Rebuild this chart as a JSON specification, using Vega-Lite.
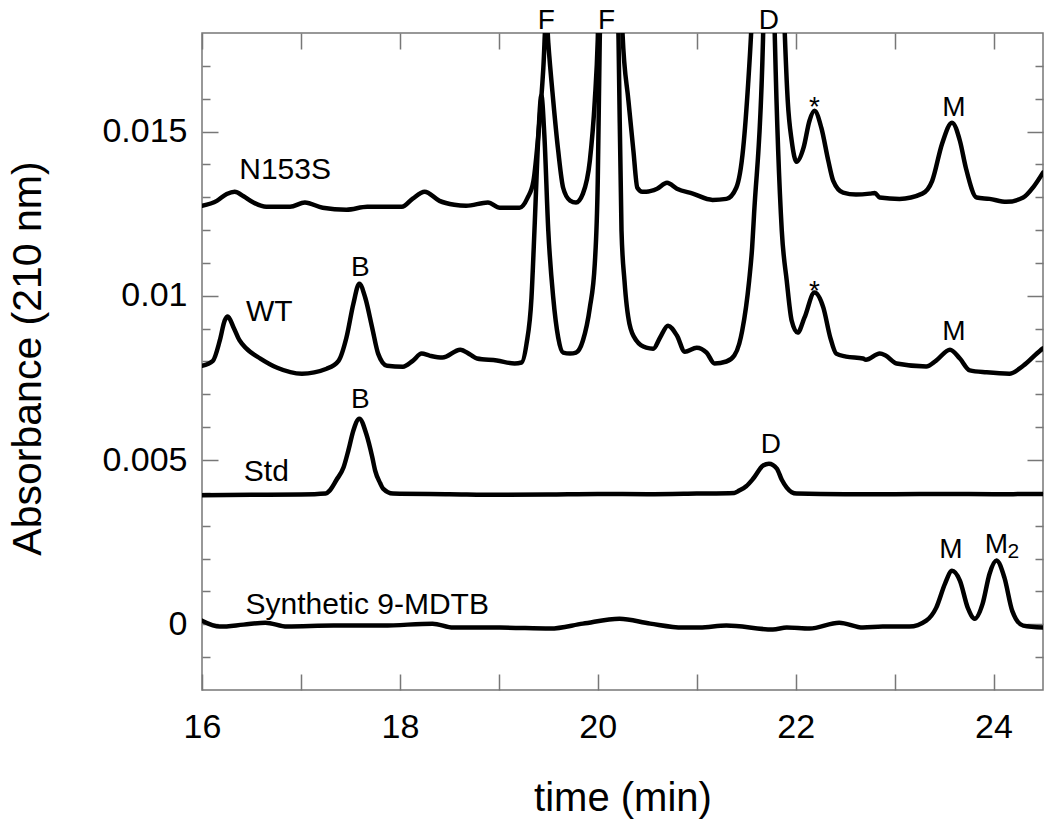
{
  "$schema": "https://vega.github.io/schema/vega-lite/v6.json",
  "width": 841,
  "height": 657,
  "autosize": "none",
  "padding": {"left": 202, "top": 33, "right": 7, "bottom": 147},
  "background": "white",
  "config": {
    "view": {"stroke": "#777777", "strokeWidth": 1.5},
    "font": "Liberation Sans",
    "axis": {
      "domain": false,
      "grid": false,
      "tickColor": "#777777",
      "tickWidth": 1.5,
      "labelFont": "Liberation Sans",
      "titleFont": "Liberation Sans",
      "labelColor": "#000000",
      "titleColor": "#000000",
      "titleFontWeight": "normal",
      "labelFlush": false,
      "labelOverlap": false,
      "labelBound": false
    }
  },
  "datasets": {
    "curves": [
      {"series": "N153S", "t": 16.0, "a": 0.01274},
      {"series": "N153S", "t": 16.15, "a": 0.01289},
      {"series": "N153S", "t": 16.25, "a": 0.0131},
      {"series": "N153S", "t": 16.33, "a": 0.01317},
      {"series": "N153S", "t": 16.42, "a": 0.01303},
      {"series": "N153S", "t": 16.52, "a": 0.01284},
      {"series": "N153S", "t": 16.65, "a": 0.01271},
      {"series": "N153S", "t": 16.89, "a": 0.01271},
      {"series": "N153S", "t": 17.04, "a": 0.01284},
      {"series": "N153S", "t": 17.22, "a": 0.01268},
      {"series": "N153S", "t": 17.46, "a": 0.01262},
      {"series": "N153S", "t": 17.67, "a": 0.01271},
      {"series": "N153S", "t": 18.02, "a": 0.01271},
      {"series": "N153S", "t": 18.13, "a": 0.01296},
      {"series": "N153S", "t": 18.25, "a": 0.01317},
      {"series": "N153S", "t": 18.4, "a": 0.01289},
      {"series": "N153S", "t": 18.55, "a": 0.01277},
      {"series": "N153S", "t": 18.67, "a": 0.01274},
      {"series": "N153S", "t": 18.89, "a": 0.01284},
      {"series": "N153S", "t": 19.01, "a": 0.01268},
      {"series": "N153S", "t": 19.21, "a": 0.01268},
      {"series": "N153S", "t": 19.29, "a": 0.01298},
      {"series": "N153S", "t": 19.35, "a": 0.0135},
      {"series": "N153S", "t": 19.4, "a": 0.01493},
      {"series": "N153S", "t": 19.45, "a": 0.01694},
      {"series": "N153S", "t": 19.48, "a": 0.0186},
      {"series": "N153S", "t": 19.5, "a": 0.0177},
      {"series": "N153S", "t": 19.55, "a": 0.01594},
      {"series": "N153S", "t": 19.6, "a": 0.01442},
      {"series": "N153S", "t": 19.65, "a": 0.01329},
      {"series": "N153S", "t": 19.72, "a": 0.0129},
      {"series": "N153S", "t": 19.78, "a": 0.01284},
      {"series": "N153S", "t": 19.85, "a": 0.01311},
      {"series": "N153S", "t": 19.92, "a": 0.01411},
      {"series": "N153S", "t": 19.97, "a": 0.01594},
      {"series": "N153S", "t": 20.0, "a": 0.0178},
      {"series": "N153S", "t": 20.03, "a": 0.022},
      {"series": "N153S", "t": 20.12, "a": 0.026},
      {"series": "N153S", "t": 20.22, "a": 0.022},
      {"series": "N153S", "t": 20.25, "a": 0.018},
      {"series": "N153S", "t": 20.31, "a": 0.01594},
      {"series": "N153S", "t": 20.36, "a": 0.01442},
      {"series": "N153S", "t": 20.4, "a": 0.01329},
      {"series": "N153S", "t": 20.45, "a": 0.01317},
      {"series": "N153S", "t": 20.49, "a": 0.01317},
      {"series": "N153S", "t": 20.6, "a": 0.01326},
      {"series": "N153S", "t": 20.7, "a": 0.01344},
      {"series": "N153S", "t": 20.8, "a": 0.01326},
      {"series": "N153S", "t": 20.96, "a": 0.01311},
      {"series": "N153S", "t": 21.16, "a": 0.01292},
      {"series": "N153S", "t": 21.3, "a": 0.01295},
      {"series": "N153S", "t": 21.4, "a": 0.01329},
      {"series": "N153S", "t": 21.47, "a": 0.0145},
      {"series": "N153S", "t": 21.52, "a": 0.01646},
      {"series": "N153S", "t": 21.55, "a": 0.018},
      {"series": "N153S", "t": 21.6, "a": 0.022},
      {"series": "N153S", "t": 21.72, "a": 0.026},
      {"series": "N153S", "t": 21.85, "a": 0.022},
      {"series": "N153S", "t": 21.89, "a": 0.018},
      {"series": "N153S", "t": 21.92, "a": 0.01594},
      {"series": "N153S", "t": 21.96, "a": 0.01472},
      {"series": "N153S", "t": 22.01, "a": 0.01408},
      {"series": "N153S", "t": 22.08, "a": 0.01451},
      {"series": "N153S", "t": 22.14, "a": 0.01533},
      {"series": "N153S", "t": 22.19, "a": 0.01563},
      {"series": "N153S", "t": 22.26, "a": 0.01511},
      {"series": "N153S", "t": 22.33, "a": 0.01411},
      {"series": "N153S", "t": 22.38, "a": 0.0135},
      {"series": "N153S", "t": 22.48, "a": 0.01314},
      {"series": "N153S", "t": 22.61, "a": 0.01308},
      {"series": "N153S", "t": 22.75, "a": 0.01311},
      {"series": "N153S", "t": 22.8, "a": 0.01313},
      {"series": "N153S", "t": 22.85, "a": 0.01299},
      {"series": "N153S", "t": 23.05, "a": 0.01295},
      {"series": "N153S", "t": 23.28, "a": 0.01311},
      {"series": "N153S", "t": 23.38, "a": 0.0135},
      {"series": "N153S", "t": 23.48, "a": 0.01463},
      {"series": "N153S", "t": 23.58, "a": 0.01527},
      {"series": "N153S", "t": 23.66, "a": 0.01472},
      {"series": "N153S", "t": 23.72, "a": 0.0139},
      {"series": "N153S", "t": 23.83, "a": 0.01299},
      {"series": "N153S", "t": 23.96, "a": 0.01295},
      {"series": "N153S", "t": 24.13, "a": 0.01286},
      {"series": "N153S", "t": 24.3, "a": 0.01299},
      {"series": "N153S", "t": 24.4, "a": 0.0133},
      {"series": "N153S", "t": 24.5, "a": 0.01375},

      {"series": "WT", "t": 16.0, "a": 0.00787},
      {"series": "WT", "t": 16.11, "a": 0.00802},
      {"series": "WT", "t": 16.18, "a": 0.00864},
      {"series": "WT", "t": 16.23, "a": 0.00925},
      {"series": "WT", "t": 16.26, "a": 0.00937},
      {"series": "WT", "t": 16.32, "a": 0.00903},
      {"series": "WT", "t": 16.38, "a": 0.00864},
      {"series": "WT", "t": 16.45, "a": 0.00839},
      {"series": "WT", "t": 16.59, "a": 0.00809},
      {"series": "WT", "t": 16.76, "a": 0.00781},
      {"series": "WT", "t": 17.01, "a": 0.00763},
      {"series": "WT", "t": 17.26, "a": 0.00778},
      {"series": "WT", "t": 17.38, "a": 0.00802},
      {"series": "WT", "t": 17.46, "a": 0.00873},
      {"series": "WT", "t": 17.53, "a": 0.00976},
      {"series": "WT", "t": 17.59, "a": 0.01037},
      {"series": "WT", "t": 17.65, "a": 0.00994},
      {"series": "WT", "t": 17.72, "a": 0.00903},
      {"series": "WT", "t": 17.78, "a": 0.00824},
      {"series": "WT", "t": 17.87, "a": 0.00787},
      {"series": "WT", "t": 18.03, "a": 0.00784},
      {"series": "WT", "t": 18.13, "a": 0.00802},
      {"series": "WT", "t": 18.22, "a": 0.00824},
      {"series": "WT", "t": 18.3, "a": 0.00818},
      {"series": "WT", "t": 18.43, "a": 0.00812},
      {"series": "WT", "t": 18.61, "a": 0.00836},
      {"series": "WT", "t": 18.71, "a": 0.00821},
      {"series": "WT", "t": 18.78, "a": 0.00809},
      {"series": "WT", "t": 18.98, "a": 0.00803},
      {"series": "WT", "t": 19.16, "a": 0.00794},
      {"series": "WT", "t": 19.23, "a": 0.00797},
      {"series": "WT", "t": 19.28, "a": 0.00854},
      {"series": "WT", "t": 19.33, "a": 0.00994},
      {"series": "WT", "t": 19.36, "a": 0.01198},
      {"series": "WT", "t": 19.4, "a": 0.0149},
      {"series": "WT", "t": 19.43, "a": 0.0161},
      {"series": "WT", "t": 19.46, "a": 0.0149},
      {"series": "WT", "t": 19.5, "a": 0.01198},
      {"series": "WT", "t": 19.55, "a": 0.00994},
      {"series": "WT", "t": 19.6, "a": 0.00873},
      {"series": "WT", "t": 19.65, "a": 0.00827},
      {"series": "WT", "t": 19.72, "a": 0.00824},
      {"series": "WT", "t": 19.78, "a": 0.00827},
      {"series": "WT", "t": 19.85, "a": 0.00864},
      {"series": "WT", "t": 19.92, "a": 0.00964},
      {"series": "WT", "t": 19.97, "a": 0.01098},
      {"series": "WT", "t": 20.0, "a": 0.0135},
      {"series": "WT", "t": 20.02, "a": 0.0178},
      {"series": "WT", "t": 20.05, "a": 0.022},
      {"series": "WT", "t": 20.12, "a": 0.026},
      {"series": "WT", "t": 20.18, "a": 0.022},
      {"series": "WT", "t": 20.21, "a": 0.0178},
      {"series": "WT", "t": 20.24, "a": 0.01198},
      {"series": "WT", "t": 20.27, "a": 0.01046},
      {"series": "WT", "t": 20.32, "a": 0.00915},
      {"series": "WT", "t": 20.39, "a": 0.00864},
      {"series": "WT", "t": 20.49, "a": 0.00842},
      {"series": "WT", "t": 20.56, "a": 0.00839},
      {"series": "WT", "t": 20.63, "a": 0.00873},
      {"series": "WT", "t": 20.71, "a": 0.00909},
      {"series": "WT", "t": 20.8, "a": 0.00879},
      {"series": "WT", "t": 20.88, "a": 0.0083},
      {"series": "WT", "t": 21.0, "a": 0.00842},
      {"series": "WT", "t": 21.1, "a": 0.00827},
      {"series": "WT", "t": 21.18, "a": 0.00794},
      {"series": "WT", "t": 21.3, "a": 0.008},
      {"series": "WT", "t": 21.38, "a": 0.00818},
      {"series": "WT", "t": 21.43, "a": 0.00854},
      {"series": "WT", "t": 21.46, "a": 0.00894},
      {"series": "WT", "t": 21.53, "a": 0.01046},
      {"series": "WT", "t": 21.56, "a": 0.01146},
      {"series": "WT", "t": 21.58, "a": 0.0125},
      {"series": "WT", "t": 21.67, "a": 0.0178},
      {"series": "WT", "t": 21.7, "a": 0.022},
      {"series": "WT", "t": 21.73, "a": 0.026},
      {"series": "WT", "t": 21.76, "a": 0.022},
      {"series": "WT", "t": 21.79, "a": 0.0178},
      {"series": "WT", "t": 21.86, "a": 0.01198},
      {"series": "WT", "t": 21.91, "a": 0.01046},
      {"series": "WT", "t": 21.96, "a": 0.00924},
      {"series": "WT", "t": 22.02, "a": 0.00888},
      {"series": "WT", "t": 22.09, "a": 0.00934},
      {"series": "WT", "t": 22.19, "a": 0.0101},
      {"series": "WT", "t": 22.28, "a": 0.00964},
      {"series": "WT", "t": 22.35, "a": 0.00873},
      {"series": "WT", "t": 22.41, "a": 0.00824},
      {"series": "WT", "t": 22.51, "a": 0.00815},
      {"series": "WT", "t": 22.68, "a": 0.00809},
      {"series": "WT", "t": 22.71, "a": 0.00805},
      {"series": "WT", "t": 22.85, "a": 0.00824},
      {"series": "WT", "t": 22.91, "a": 0.00818},
      {"series": "WT", "t": 23.02, "a": 0.00794},
      {"series": "WT", "t": 23.32, "a": 0.00785},
      {"series": "WT", "t": 23.42, "a": 0.00803},
      {"series": "WT", "t": 23.56, "a": 0.00836},
      {"series": "WT", "t": 23.66, "a": 0.00809},
      {"series": "WT", "t": 23.76, "a": 0.00773},
      {"series": "WT", "t": 23.93, "a": 0.00767},
      {"series": "WT", "t": 24.16, "a": 0.00763},
      {"series": "WT", "t": 24.3, "a": 0.00787},
      {"series": "WT", "t": 24.47, "a": 0.00833},
      {"series": "WT", "t": 24.5, "a": 0.0084},

      {"series": "Std", "t": 16.0, "a": 0.00393},
      {"series": "Std", "t": 16.5, "a": 0.00394},
      {"series": "Std", "t": 17.0, "a": 0.00395},
      {"series": "Std", "t": 17.25, "a": 0.00398},
      {"series": "Std", "t": 17.29, "a": 0.00407},
      {"series": "Std", "t": 17.36, "a": 0.0044},
      {"series": "Std", "t": 17.43, "a": 0.00477},
      {"series": "Std", "t": 17.48, "a": 0.0053},
      {"series": "Std", "t": 17.53, "a": 0.0059},
      {"series": "Std", "t": 17.59, "a": 0.00626},
      {"series": "Std", "t": 17.66, "a": 0.0058},
      {"series": "Std", "t": 17.72, "a": 0.0051},
      {"series": "Std", "t": 17.75, "a": 0.00468},
      {"series": "Std", "t": 17.8, "a": 0.0043},
      {"series": "Std", "t": 17.83, "a": 0.00413},
      {"series": "Std", "t": 17.93, "a": 0.00398},
      {"series": "Std", "t": 18.5, "a": 0.00396},
      {"series": "Std", "t": 19.0, "a": 0.00394},
      {"series": "Std", "t": 19.5, "a": 0.00395},
      {"series": "Std", "t": 20.0, "a": 0.00397},
      {"series": "Std", "t": 20.5, "a": 0.00396},
      {"series": "Std", "t": 21.0, "a": 0.00398},
      {"series": "Std", "t": 21.38, "a": 0.004},
      {"series": "Std", "t": 21.43, "a": 0.00407},
      {"series": "Std", "t": 21.5, "a": 0.0042},
      {"series": "Std", "t": 21.57, "a": 0.00443},
      {"series": "Std", "t": 21.67, "a": 0.00483},
      {"series": "Std", "t": 21.73, "a": 0.00489},
      {"series": "Std", "t": 21.81, "a": 0.00474},
      {"series": "Std", "t": 21.86, "a": 0.0044},
      {"series": "Std", "t": 21.91, "a": 0.00416},
      {"series": "Std", "t": 21.96, "a": 0.00402},
      {"series": "Std", "t": 22.01, "a": 0.00398},
      {"series": "Std", "t": 22.5, "a": 0.00396},
      {"series": "Std", "t": 23.0, "a": 0.00396},
      {"series": "Std", "t": 23.5, "a": 0.00397},
      {"series": "Std", "t": 24.0, "a": 0.00396},
      {"series": "Std", "t": 24.5, "a": 0.00397},

      {"series": "Syn", "t": 16.0, "a": 0.00011},
      {"series": "Syn", "t": 16.18, "a": -0.00007},
      {"series": "Syn", "t": 16.42, "a": -0.00001},
      {"series": "Syn", "t": 16.64, "a": 0.00005},
      {"series": "Syn", "t": 16.86, "a": -0.00007},
      {"series": "Syn", "t": 17.33, "a": -0.00004},
      {"series": "Syn", "t": 17.83, "a": -0.00004},
      {"series": "Syn", "t": 18.33, "a": 0.00002},
      {"series": "Syn", "t": 18.54, "a": -0.0001},
      {"series": "Syn", "t": 19.01, "a": -0.0001},
      {"series": "Syn", "t": 19.52, "a": -0.00013},
      {"series": "Syn", "t": 19.85, "a": 0.00002},
      {"series": "Syn", "t": 20.22, "a": 0.00017},
      {"series": "Syn", "t": 20.53, "a": 0.00002},
      {"series": "Syn", "t": 20.86, "a": -0.0001},
      {"series": "Syn", "t": 21.03, "a": -0.0001},
      {"series": "Syn", "t": 21.3, "a": -0.00004},
      {"series": "Syn", "t": 21.77, "a": -0.00016},
      {"series": "Syn", "t": 21.91, "a": -0.0001},
      {"series": "Syn", "t": 22.14, "a": -0.00013},
      {"series": "Syn", "t": 22.44, "a": 0.00005},
      {"series": "Syn", "t": 22.68, "a": -0.0001},
      {"series": "Syn", "t": 22.88, "a": -0.00007},
      {"series": "Syn", "t": 23.15, "a": -0.00007},
      {"series": "Syn", "t": 23.32, "a": 0.00011},
      {"series": "Syn", "t": 23.42, "a": 0.0005},
      {"series": "Syn", "t": 23.51, "a": 0.00124},
      {"series": "Syn", "t": 23.58, "a": 0.00163},
      {"series": "Syn", "t": 23.66, "a": 0.00133},
      {"series": "Syn", "t": 23.74, "a": 0.0005},
      {"series": "Syn", "t": 23.81, "a": 0.00017},
      {"series": "Syn", "t": 23.89, "a": 0.00063},
      {"series": "Syn", "t": 23.96, "a": 0.00154},
      {"series": "Syn", "t": 24.03, "a": 0.00194},
      {"series": "Syn", "t": 24.11, "a": 0.00142},
      {"series": "Syn", "t": 24.19, "a": 0.0004},
      {"series": "Syn", "t": 24.3, "a": -0.00004},
      {"series": "Syn", "t": 24.5, "a": -0.0001}
    ],
    "names": [
      {"label": "N153S", "t": 16.84, "a": 0.01357},
      {"label": "WT", "t": 16.68, "a": 0.00924},
      {"label": "Std", "t": 16.65, "a": 0.00437},
      {"label": "Synthetic 9-MDTB", "t": 17.67, "a": 0.00032}
    ],
    "peaks": [
      {"label": "F", "t": 19.48, "a": 0.01813},
      {"label": "F", "t": 20.09, "a": 0.01813},
      {"label": "D", "t": 21.73, "a": 0.01813},
      {"label": "*", "t": 22.19, "a": 0.01548},
      {"label": "M", "t": 23.6, "a": 0.01548},
      {"label": "B", "t": 17.6, "a": 0.01061},
      {"label": "*", "t": 22.19, "a": 0.00988},
      {"label": "M", "t": 23.6, "a": 0.00864},
      {"label": "B", "t": 17.6, "a": 0.00657},
      {"label": "D", "t": 21.75, "a": 0.0052},
      {"label": "M", "t": 23.57, "a": 0.00203},
      {"label": "M", "t": 24.03, "a": 0.00218}
    ],
    "subs": [
      {"label": "2", "t": 24.2, "a": 0.00203}
    ]
  },
  "layer": [
    {
      "data": {"name": "curves"},
      "mark": {"type": "line", "clip": true, "color": "#000000", "strokeWidth": 4.5, "interpolate": "monotone", "strokeJoin": "round", "strokeCap": "round"},
      "encoding": {
        "x": {
          "field": "t", "type": "quantitative",
          "scale": {"domain": [16, 24.5], "nice": false, "zero": false},
          "axis": {
            "orient": "bottom",
            "values": [16, 17, 18, 19, 20, 21, 22, 23, 24],
            "format": "d",
            "labelExpr": "datum.value % 2 === 0 ? datum.label : ''",
            "tickSize": -16,
            "labelPadding": 63,
            "labelBaseline": "alphabetic",
            "labelFontSize": 34,
            "title": "time (min)",
            "titleFontSize": 40,
            "titleY": 120,
            "titleBaseline": "alphabetic"
          }
        },
        "y": {
          "field": "a", "type": "quantitative",
          "scale": {"domain": [-0.002, 0.018], "nice": false, "zero": false},
          "axis": {
            "orient": "left",
            "values": [0, 0.005, 0.01, 0.015],
            "format": "~g",
            "tickSize": -16,
            "labelPadding": 31,
            "labelFontSize": 34,
            "title": "Absorbance (210 nm)",
            "titleFontSize": 41,
            "titleX": -162,
            "titleY": 325,
            "titleAlign": "center",
            "titleBaseline": "alphabetic"
          }
        },
        "detail": {"field": "series"}
      }
    },
    {
      "data": {"name": "names"},
      "mark": {"type": "text", "fontSize": 30, "align": "center", "baseline": "alphabetic", "color": "#000000"},
      "encoding": {
        "x": {
          "field": "t", "type": "quantitative",
          "scale": {"domain": [16, 24.5], "nice": false, "zero": false},
          "axis": {"orient": "top", "values": [16, 17, 18, 19, 20, 21, 22, 23, 24], "tickSize": -16, "labels": false, "title": null}
        },
        "y": {
          "field": "a", "type": "quantitative",
          "scale": {"domain": [-0.002, 0.018], "nice": false, "zero": false},
          "axis": {"orient": "left", "values": [-0.001, 0.001, 0.002, 0.003, 0.004, 0.006, 0.007, 0.008, 0.009, 0.011, 0.012, 0.013, 0.014, 0.016, 0.017], "tickSize": -8, "labels": false, "title": null}
        },
        "text": {"field": "label"}
      }
    },
    {
      "data": {"name": "peaks"},
      "mark": {"type": "text", "fontSize": 28, "align": "center", "baseline": "alphabetic", "color": "#000000"},
      "encoding": {
        "x": {
          "field": "t", "type": "quantitative",
          "scale": {"domain": [16, 24.5], "nice": false, "zero": false},
          "axis": null
        },
        "y": {
          "field": "a", "type": "quantitative",
          "scale": {"domain": [-0.002, 0.018], "nice": false, "zero": false},
          "axis": {"orient": "right", "values": [0, 0.005, 0.01, 0.015], "tickSize": -16, "labels": false, "title": null}
        },
        "text": {"field": "label"}
      }
    },
    {
      "data": {"name": "subs"},
      "mark": {"type": "text", "fontSize": 21, "align": "center", "baseline": "alphabetic", "color": "#000000"},
      "encoding": {
        "x": {
          "field": "t", "type": "quantitative",
          "scale": {"domain": [16, 24.5], "nice": false, "zero": false},
          "axis": null
        },
        "y": {
          "field": "a", "type": "quantitative",
          "scale": {"domain": [-0.002, 0.018], "nice": false, "zero": false},
          "axis": {"orient": "right", "values": [-0.001, 0.001, 0.002, 0.003, 0.004, 0.006, 0.007, 0.008, 0.009, 0.011, 0.012, 0.013, 0.014, 0.016, 0.017], "tickSize": -8, "labels": false, "title": null}
        },
        "text": {"field": "label"}
      }
    }
  ],
  "resolve": {"axis": {"x": "independent", "y": "independent"}}
}
